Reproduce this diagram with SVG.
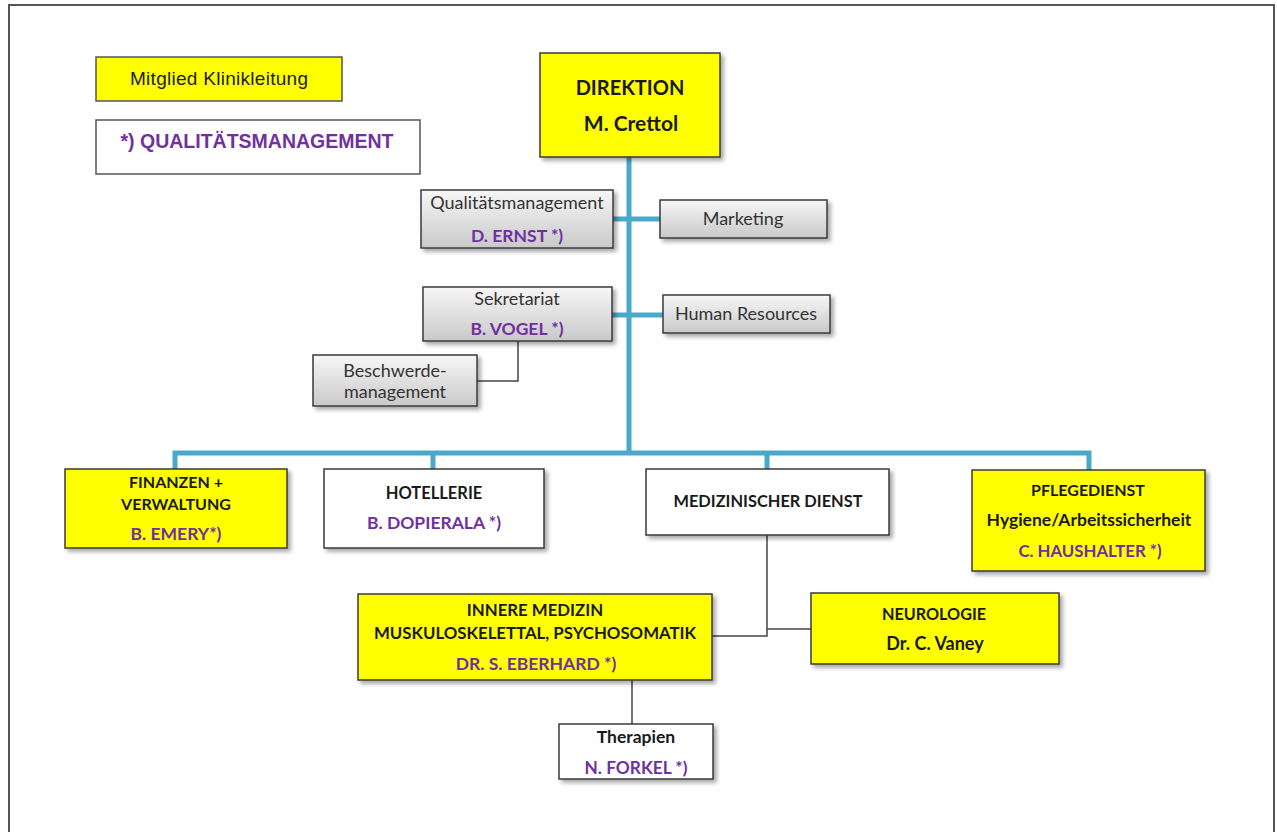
<svg xmlns="http://www.w3.org/2000/svg" width="1277" height="832" viewBox="0 0 1277 832">
<defs>
<linearGradient id="gray" x1="0" y1="0" x2="0" y2="1">
<stop offset="0" stop-color="#f7f7f7"/>
<stop offset="1" stop-color="#c9c9c9"/>
</linearGradient>
<filter id="sh" x="-10%" y="-10%" width="130%" height="140%">
<feDropShadow dx="3" dy="3" stdDeviation="2" flood-color="#000" flood-opacity="0.35"/>
</filter>
<style>
.box{stroke:#3a3a3a;stroke-width:1.5;filter:url(#sh)}
.y{fill:#ffff00}
.w{fill:#ffffff}
.g{fill:url(#gray)}
.t{font-family:Lato,"Open Sans",sans-serif;text-anchor:middle;fill:#1a1a1a}
.b{font-weight:bold}
.p{font-weight:bold;fill:#7030a0}
.n{fill:#333;font-weight:normal}
.blue{stroke:#4aa8c8;stroke-width:5;fill:none}
.thin{stroke:#444;stroke-width:1.5;fill:none}
</style>
</defs>
<rect width="1277" height="832" fill="#fff"/>
<rect x="9" y="5" width="1265" height="840" fill="none" stroke="#555" stroke-width="2"/>

<g id="connectors">
<path class="blue" d="M629 157 V453"/>
<path class="blue" d="M613 219 H660"/>
<path class="blue" d="M612 315 H663"/>
<path class="blue" d="M175 469 V453 H1089 V470"/>
<path class="blue" d="M433 453 V469"/>
<path class="blue" d="M767 453 V469"/>
<path class="thin" d="M518 341 V381 H477"/>
<path class="thin" d="M767 535 V636 H712"/>
<path class="thin" d="M767 629 H811"/>
<path class="thin" d="M632 680 V724"/>
</g>

<g id="legend-klinikleitung">
<rect x="96" y="57" width="246" height="44" fill="#ffff00" stroke="#555" stroke-width="1.5"/>
<text x="219" y="85" font-family="'Liberation Sans',Arial,sans-serif" font-size="19" text-anchor="middle" fill="#222" textLength="178">Mitglied Klinikleitung</text>
</g>
<g id="legend-qm">
<rect x="96" y="120" width="324" height="54" fill="#fff" stroke="#555" stroke-width="1.5"/>
<text x="257" y="148" font-family="'Liberation Sans',Arial,sans-serif" font-size="19.5" font-weight="bold" text-anchor="middle" fill="#7030a0" textLength="273">*) QUALITÄTSMANAGEMENT</text>
</g>

<g id="direktion">
<rect class="box y" x="540" y="53" width="180" height="104"/>
<text class="t b" x="630" y="95" font-size="20">DIREKTION</text>
<text class="t b" x="631" y="131" font-size="21">M. Crettol</text>
</g>

<g id="qualitaetsmanagement">
<rect class="box g" x="421" y="190" width="192" height="58"/>
<text class="t n" x="517" y="209" font-size="18">Qualitätsmanagement</text>
<text class="t p" x="517" y="242" font-size="17.5">D. ERNST *)</text>
</g>

<g id="marketing">
<rect class="box g" x="660" y="200" width="167" height="38"/>
<text class="t n" x="743" y="225" font-size="18">Marketing</text>
</g>

<g id="sekretariat">
<rect class="box g" x="423" y="287" width="189" height="54"/>
<text class="t n" x="517" y="305" font-size="18">Sekretariat</text>
<text class="t p" x="517" y="335" font-size="17.5">B. VOGEL *)</text>
</g>

<g id="human-resources">
<rect class="box g" x="663" y="295" width="167" height="38"/>
<text class="t n" x="746" y="320" font-size="18">Human Resources</text>
</g>

<g id="beschwerdemanagement">
<rect class="box g" x="313" y="355" width="164" height="51"/>
<text class="t n" x="395" y="377" font-size="18">Beschwerde-</text>
<text class="t n" x="395" y="398" font-size="18">management</text>
</g>

<g id="finanzen">
<rect class="box y" x="65" y="469" width="222" height="79"/>
<text class="t b" x="176" y="488" font-size="16">FINANZEN +</text>
<text class="t b" x="176" y="510" font-size="16">VERWALTUNG</text>
<text class="t p" x="176" y="540" font-size="17.5">B. EMERY*)</text>
</g>

<g id="hotellerie">
<rect class="box w" x="324" y="469" width="220" height="79"/>
<text class="t b" x="434" y="499" font-size="16.5">HOTELLERIE</text>
<text class="t p" x="434" y="529" font-size="17.5">B. DOPIERALA *)</text>
</g>

<g id="medizinischer-dienst">
<rect class="box w" x="646" y="469" width="243" height="66"/>
<text class="t b" x="768" y="507" font-size="16.4">MEDIZINISCHER DIENST</text>
</g>

<g id="pflegedienst">
<rect class="box y" x="972" y="470" width="233" height="101"/>
<text class="t b" x="1088" y="496" font-size="16">PFLEGEDIENST</text>
<text class="t b" x="1089" y="526" font-size="17.5">Hygiene/Arbeitssicherheit</text>
<text class="t p" x="1090" y="557" font-size="16.8">C. HAUSHALTER *)</text>
</g>

<g id="innere-medizin">
<rect class="box y" x="358" y="594" width="354" height="86"/>
<text class="t b" x="535" y="616" font-size="16.8">INNERE MEDIZIN</text>
<text class="t b" x="535" y="639" font-size="16.8">MUSKULOSKELETTAL, PSYCHOSOMATIK</text>
<text class="t p" x="536" y="670" font-size="17.5">DR. S. EBERHARD *)</text>
</g>

<g id="neurologie">
<rect class="box y" x="811" y="593" width="248" height="71"/>
<text class="t b" x="934" y="620" font-size="16.2">NEUROLOGIE</text>
<text class="t b" x="935" y="650" font-size="18">Dr. C. Vaney</text>
</g>

<g id="therapien">
<rect class="box w" x="559" y="724" width="154" height="55"/>
<text class="t b" x="636" y="743" font-size="17.5">Therapien</text>
<text class="t p" x="636" y="774" font-size="17.3">N. FORKEL *)</text>
</g>
</svg>
